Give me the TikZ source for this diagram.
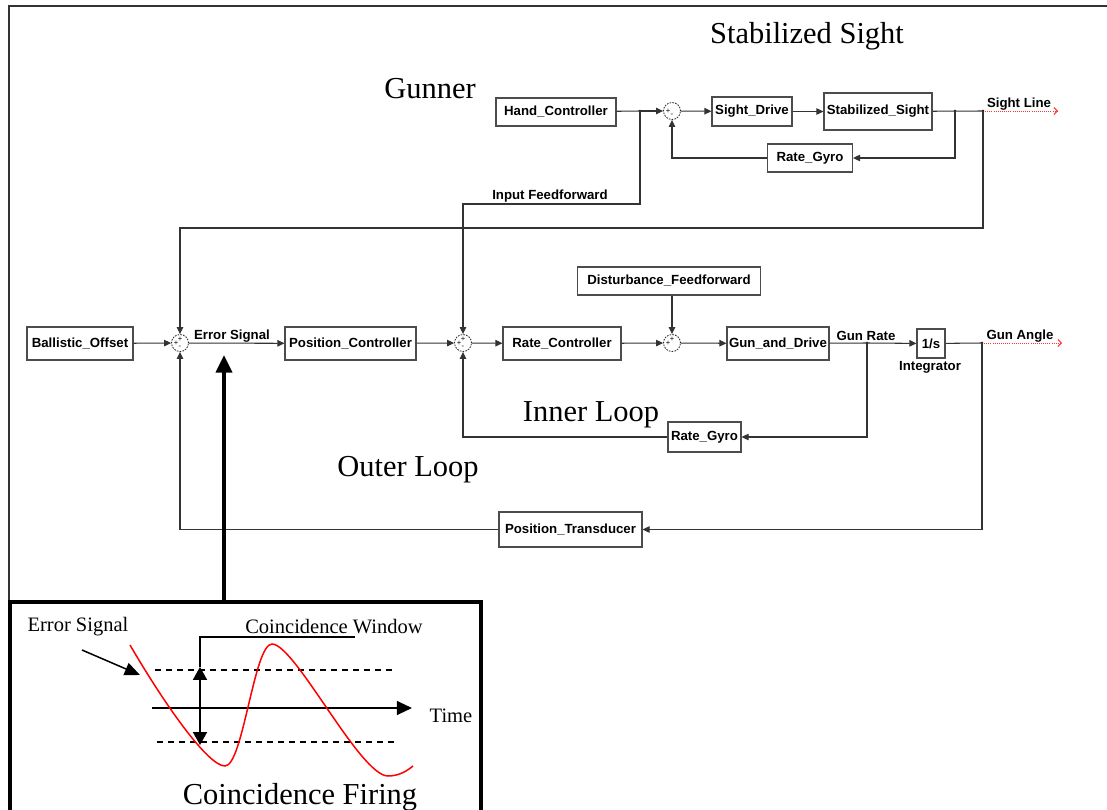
\documentclass[tikz,border=0pt]{standalone}
\usepackage{fontspec}
\setmainfont{Liberation Serif}
\setsansfont{Liberation Sans}
\usetikzlibrary{arrows.meta}
\newdimen\px \px=0.03cm

\begin{document}
\begin{tikzpicture}[x=0.03cm,y=-0.03cm,
  blk/.style={draw=black!70, line width=0.9pt, inner sep=0pt,
    font=\sffamily\bfseries\fontsize{11.3}{13}\selectfont},
  sum/.style={circle, draw=black!85, dash pattern=on 1.4pt off 1pt, line width=0.7pt,
    minimum size=17\px, inner sep=0pt},
  sgn/.style={inner sep=0pt, font=\sffamily\fontsize{6.5}{6.5}\selectfont},
  lbl/.style={inner sep=0pt, font=\sffamily\bfseries\fontsize{11.3}{13}\selectfont},
  big/.style={inner sep=0pt, font=\fontsize{26}{30}\selectfont},
  sml/.style={inner sep=0pt, font=\fontsize{17.5}{20}\selectfont},
  line/.style={draw=black!80, line width=0.9pt},
  arr/.style={line, -{Triangle[length=6pt,width=5.5pt]}},
  sigout/.style={draw=red!80, densely dotted, line width=0.8pt, -{Straight Barb[length=3pt]}}]
  \useasboundingbox (0,0) rectangle (1107,810);
  \clip (0,0) rectangle (1107,810);
  \draw[line width=2.5\px, black!80] (9,820) -- (9,6) -- (1115,6);

  \node[big] (t1) at (807,36) {Stabilized Sight};
  \node[big] (t2) at (430,89) {Gunner};
  \node[big] (t3) at (591,415) {Inner Loop};
  \node[big] (t4) at (408,470) {Outer Loop};

  \node[blk, minimum width=120\px, minimum height=28\px] (1) at (556,112) {Hand\_Controller};
  \node[sum] (2) at (672,111) {};
  \node[blk, minimum width=80\px, minimum height=29\px] (3) at (752,111.5) {Sight\_Drive};
  \node[blk, minimum width=108\px, minimum height=37\px] (4) at (878,111.5) {Stabilized\_Sight};
  \node[blk, minimum width=85\px, minimum height=28\px] (5) at (810,158) {Rate\_Gyro};
  \node[blk, minimum width=106\px, minimum height=33\px] (6) at (80,343.5) {Ballistic\_Offset};
  \node[sum] (s1) at (180,343) {};
  \node[blk, minimum width=131\px, minimum height=33\px] (7) at (350.5,343.5) {Position\_Controller};
  \node[sum] (s2) at (463,343) {};
  \node[blk, minimum width=118\px, minimum height=33\px] (8) at (562,343.5) {Rate\_Controller};
  \node[sum] (s3) at (672,343) {};
  \node[blk, minimum width=183\px, minimum height=28\px] (9) at (669,281) {Disturbance\_Feedforward};
  \node[blk, minimum width=102\px, minimum height=33\px] (10) at (778,343.5) {Gun\_and\_Drive};
  \node[blk, minimum width=28\px, minimum height=29\px] (11) at (931,343.5) {1/s};
  \node[blk, minimum width=73\px, minimum height=30\px] (12) at (704.5,437) {Rate\_Gyro};
  \node[blk, minimum width=143\px, minimum height=35\px] (13) at (570.5,529.5) {Position\_Transducer};

  \node[sgn] at ([xshift=-4\px]2) {+};
  \node[sgn] at ([yshift=-4\px]2) {-};
  \node[sgn] at ([yshift=4\px]s1) {+};
  \node[sgn] at ([xshift=-4\px]s1) {+};
  \node[sgn] at ([yshift=-4\px]s1) {-};
  \node[sgn] at ([yshift=4\px]s2) {+};
  \node[sgn] at ([xshift=-4\px]s2) {+};
  \node[sgn] at ([yshift=-4\px]s2) {-};
  \node[sgn] at ([yshift=4\px]s3) {+};
  \node[sgn] at ([xshift=-4\px]s3) {+};

  \coordinate (j1) at (640,111);
  \coordinate (j2) at (955,111);
  \coordinate (j3) at (983,111);
  \coordinate (j4) at (867,343);
  \coordinate (j5) at (982,343);
  \coordinate (o1) at (1058,111);
  \coordinate (o2) at (1062,343);
  \foreach \j in {j1,j2,j3,j4,j5} \fill (\j) circle (1.2pt);

  \node[lbl] (l1) at (1019,104) {Sight Line};
  \node[lbl] (l2) at (550,196) {Input Feedforward};
  \node[lbl] (l3) at (232,336) {Error Signal};
  \node[lbl] (l4) at (866,336) {Gun Rate};
  \node[lbl] (l5) at (1020,336) {Gun Angle};
  \node[lbl] (l6) at (930,367) {Integrator};

  \draw[line] (1) -- (j1);
  \draw[arr] (j1) -- (2);
  \draw[arr] (2) -- (3);
  \draw[arr] (3) -- (4);
  \draw[line] (4) -- (j3);
  \draw[sigout] (j3) -- (o1);
  \draw[arr] (j2) |- (5);
  \draw[arr] (5) -| (2);
  \draw[arr] (j1) -- ++(0,93) -| (s2);
  \draw[arr] (j3) -- ++(0,117) -| (s1);

  \draw[arr] (6) -- (s1);
  \draw[arr] (s1) -- (7);
  \draw[arr] (7) -- (s2);
  \draw[arr] (s2) -- (8);
  \draw[arr] (8) -- (s3);
  \draw[arr] (9.south -| s3) -- (s3);
  \draw[arr] (s3) -- (10);
  \draw[line] (10) -- (j4);
  \draw[arr] (j4) -- (11);
  \draw[line] (11) -- (j5);
  \draw[sigout] (j5) -- (o2);
  \draw[arr] (j4) |- (12);
  \draw[arr] (12) -| (s2);
  \draw[arr] (j5) |- (13);
  \draw[arr] (13) -| (s1);

  \coordinate (es) at (224,355);
  \coordinate (ins) at (224,602);
  \draw[line width=4\px, -{Triangle[length=15pt,width=13.5pt]}] (ins) -- (es);
  \draw[line width=4\px] (10,602) rectangle (481,840);

  \node[sml] (e1) at (78,627) {Error Signal};
  \node[sml] (e2) at (334,627) {Coincidence Window};
  \node[sml] (e3) at (451,716) {Time};
  \node[big] (e4) at (300,797) {Coincidence Firing};
  \draw[line width=1.5\px, -{Triangle[length=13pt,width=11pt]}] (82,650) -- (140,675);
  \draw[line width=1.2\px, dash pattern=on 6\px off 5\px] (155,670) -- (393,670);
  \draw[line width=1.2\px, dash pattern=on 6\px off 5\px] (157,742) -- (395,742);
  \draw[line width=1.5\px, -{Triangle[length=13pt,width=12pt]}] (152,708) -- (412,708);
  \draw[line width=1.5\px] (355,637) -| (200,667);
  \draw[line width=1.5\px, {Triangle[length=11pt,width=12pt]}-{Triangle[length=11pt,width=12pt]}] (200,667) -- (200,745);
  \draw[red, line width=1.5\px] (130,645) .. controls (165,705) and (208,766) .. (225,766)
    .. controls (243,766) and (254,644) .. (272,644)
    .. controls (295,644) and (360,776) .. (388,776)
    .. controls (400,776) and (408,770) .. (413,766);
\end{tikzpicture}
\end{document}
